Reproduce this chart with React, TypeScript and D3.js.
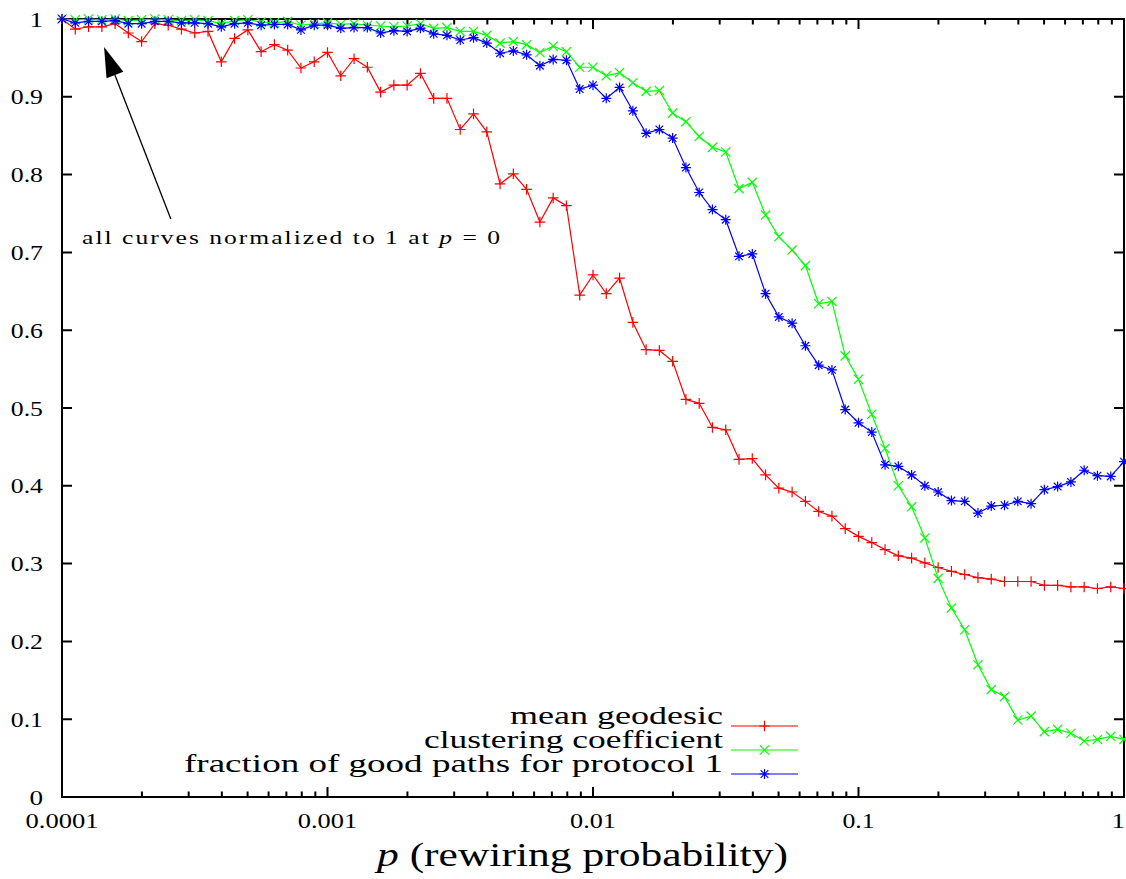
import React from 'react';
import * as d3 from 'd3';

// rewiring probabilities, 20 per decade
const pValues = [
  0.0001, 0.0001122, 0.0001259, 0.0001413, 0.0001585, 0.0001778, 0.0001995, 0.0002239, 0.0002512, 0.0002818,
  0.0003162, 0.0003548, 0.0003981, 0.0004467, 0.0005012, 0.0005623, 0.000631, 0.0007079, 0.0007943, 0.0008913,
  0.001, 0.001122, 0.001259, 0.001413, 0.001585, 0.001778, 0.001995, 0.002239, 0.002512, 0.002818,
  0.003162, 0.003548, 0.003981, 0.004467, 0.005012, 0.005623, 0.00631, 0.007079, 0.007943, 0.008913,
  0.01, 0.01122, 0.01259, 0.01413, 0.01585, 0.01778, 0.01995, 0.02239, 0.02512, 0.02818,
  0.03162, 0.03548, 0.03981, 0.04467, 0.05012, 0.05623, 0.0631, 0.07079, 0.07943, 0.08913,
  0.1, 0.1122, 0.1259, 0.1413, 0.1585, 0.1778, 0.1995, 0.2239, 0.2512, 0.2818,
  0.3162, 0.3548, 0.3981, 0.4467, 0.5012, 0.5623, 0.631, 0.7079, 0.7943, 0.8913,
  1,
];

const meanGeodesic = [
  1.0, 0.987, 0.99, 0.99, 0.994, 0.982, 0.971, 0.994, 0.992, 0.987,
  0.982, 0.984, 0.945, 0.975, 0.986, 0.958, 0.967, 0.96, 0.937, 0.945,
  0.957, 0.927, 0.949, 0.938, 0.906, 0.915, 0.915, 0.93, 0.898, 0.898,
  0.858, 0.878, 0.855, 0.788, 0.801, 0.781, 0.739, 0.77, 0.76, 0.645,
  0.671, 0.647, 0.667, 0.61, 0.575, 0.574, 0.56, 0.511, 0.506, 0.475,
  0.472, 0.434, 0.435, 0.414, 0.397, 0.392, 0.38, 0.367, 0.361, 0.345,
  0.335, 0.327, 0.318, 0.31, 0.307, 0.301, 0.295, 0.29, 0.286, 0.282,
  0.28, 0.277, 0.277, 0.277, 0.272, 0.272, 0.27, 0.27, 0.268, 0.27,
  0.268,
];

const clustering = [
  1.0, 0.999, 1.0, 0.999, 1.0, 0.998, 0.999, 1.0, 0.999, 0.998,
  0.999, 0.998, 0.994, 0.998, 0.999, 0.996, 0.995, 0.997, 0.992, 0.994,
  0.995, 0.993, 0.994, 0.992, 0.991, 0.99, 0.991, 0.994, 0.988, 0.989,
  0.984, 0.984, 0.979, 0.969, 0.971, 0.967, 0.957, 0.965, 0.958, 0.938,
  0.938, 0.927, 0.931, 0.918, 0.907, 0.908, 0.879, 0.868, 0.849, 0.835,
  0.829, 0.782, 0.79, 0.748, 0.72, 0.703, 0.683, 0.634, 0.637, 0.567,
  0.537, 0.492, 0.448, 0.4, 0.373, 0.333, 0.281, 0.243, 0.215, 0.17,
  0.138, 0.129, 0.099, 0.104, 0.084, 0.087, 0.082, 0.072, 0.074, 0.078,
  0.074,
];

const goodPaths = [
  1.0, 0.995, 0.997, 0.997, 0.998, 0.994, 0.994, 0.997, 0.997, 0.995,
  0.995, 0.994, 0.99, 0.994, 0.995, 0.992, 0.993, 0.993, 0.986, 0.992,
  0.992, 0.988, 0.989, 0.989, 0.982, 0.985, 0.984, 0.988, 0.981, 0.979,
  0.973, 0.976, 0.969, 0.956, 0.959, 0.954, 0.94, 0.948, 0.947, 0.91,
  0.915, 0.898, 0.912, 0.882, 0.853, 0.858, 0.847, 0.809, 0.777, 0.755,
  0.742, 0.695, 0.698, 0.647, 0.617, 0.609, 0.58, 0.555, 0.549, 0.498,
  0.481, 0.469, 0.427, 0.425, 0.414, 0.4, 0.392, 0.381, 0.38, 0.365,
  0.374, 0.375, 0.38, 0.377, 0.395, 0.399, 0.405, 0.42, 0.413, 0.412,
  0.431,
];

const seriesNames = ['mean geodesic', 'clustering coefficient', 'fraction of good paths for protocol 1'];
const seriesColors = ['#ff0000', '#00ff00', '#0000ff'];
const seriesMarkers = ['plus', 'cross', 'star'];

const yTicks = [0, 0.1, 0.2, 0.3, 0.4, 0.5, 0.6, 0.7, 0.8, 0.9, 1];
const yTickLabels = ['0', '0.1', '0.2', '0.3', '0.4', '0.5', '0.6', '0.7', '0.8', '0.9', '1'];
const xDecades = [0.0001, 0.001, 0.01, 0.1, 1];
const xTickLabels = ['0.0001', '0.001', '0.01', '0.1', '1'];

const serif = "'Liberation Serif'";

const W = 1126, H = 879;
const left = 62, right = 1124, top = 19, bottom = 797;
const x = d3.scaleLog().domain([0.0001, 1]).range([left, right]);
const y = d3.scaleLinear().domain([0, 1]).range([bottom, top]);

// stretched width of a tick label, to look like the wide TeX digits
const labelWidth = (s: string) => s.replace(/\./g, '').length * 13.6 + (s.includes('.') ? 5 : 0);

const markerPath = (kind: string, cx: number, cy: number) => {
  if (kind === 'plus') return `M${cx - 5.3},${cy}H${cx + 5.3}M${cx},${cy - 5.3}V${cy + 5.3}`;
  const r = 4.6;
  if (kind === 'cross') return `M${cx - r},${cy - r}L${cx + r},${cy + r}M${cx - r},${cy + r}L${cx + r},${cy - r}`;
  const r2 = 3.8;
  return `M${cx - 5},${cy}H${cx + 5}M${cx},${cy - 5}V${cy + 5}M${cx - r2},${cy - r2}L${cx + r2},${cy + r2}M${cx - r2},${cy + r2}L${cx + r2},${cy - r2}`;
};

const isMajor = (t: number) => Math.abs(Math.log10(t) - Math.round(Math.log10(t))) < 1e-6;

const App = () => {
  const allSeries = [meanGeodesic, clustering, goodPaths];
  const line = d3.line<number>().x((d, i) => x(pValues[i])).y(d => y(d));

  // annotation arrow (data coordinates of tail and tip)
  const tail = [x(0.000257), y(0.743)];
  const tip = [x(0.000144), y(0.964)];
  const dx = tip[0] - tail[0], dy = tip[1] - tail[1];
  const len = Math.hypot(dx, dy);
  const ux = dx / len, uy = dy / len;
  const bx = tip[0] - 30 * ux, by = tip[1] - 30 * uy;

  const legendY = [726, 750, 774];
  const legendWidths = [213, 299, 539];

  return (
    <svg width={W} height={H} style={{ position: 'absolute', left: 0, top: 0, fontFamily: serif }}>
      <rect width={W} height={H} fill="#fff" />

      {/* border and inward ticks */}
      <g stroke="#000" strokeWidth={2} fill="none">
        <rect x={left} y={top} width={right - left} height={bottom - top} />
        {yTicks.map(t => (
          <path key={t} d={`M${left},${y(t)}h10M${right},${y(t)}h-10`} />
        ))}
        {x.ticks().map(t => {
          const l = isMajor(t) ? 10 : 5.5;
          return <path key={t} d={`M${x(t)},${bottom}v${-l}M${x(t)},${top}v${l}`} />;
        })}
      </g>

      {/* tick labels */}
      {yTicks.map((t, i) => (
        <text key={t} x={43} y={y(t) + 7.5} textAnchor="end" fontSize={21}
          style={{ fontFamily: serif }}
          textLength={labelWidth(yTickLabels[i])} lengthAdjust="spacingAndGlyphs">
          {yTickLabels[i]}
        </text>
      ))}
      {xDecades.map((d, i) => (
        <text key={d} x={Math.min(x(d), W - labelWidth(xTickLabels[i]) / 2 - 1)} y={828}
          textAnchor="middle" fontSize={21} style={{ fontFamily: serif }}
          textLength={labelWidth(xTickLabels[i])} lengthAdjust="spacingAndGlyphs">
          {xTickLabels[i]}
        </text>
      ))}

      {/* axis title */}
      <text x={377} y={866} fontSize={34} style={{ fontFamily: serif }}
        textLength={411} lengthAdjust="spacingAndGlyphs">
        <tspan fontStyle="italic">p</tspan> (rewiring probability)
      </text>

      {/* series */}
      {allSeries.map((values, si) => (
        <g key={si} stroke={seriesColors[si]} fill="none" strokeWidth={1.2}>
          <path d={line(values) || ''} />
          {values.map((v, i) => (
            <path key={i} d={markerPath(seriesMarkers[si], x(pValues[i]), y(v))} />
          ))}
        </g>
      ))}

      {/* legend */}
      {seriesNames.map((name, i) => (
        <g key={name}>
          <text x={723} y={legendY[i] - 2} textAnchor="end" fontSize={25}
            style={{ fontFamily: serif }}
            textLength={legendWidths[i]} lengthAdjust="spacingAndGlyphs">
            {name}
          </text>
          <g stroke={seriesColors[i]} fill="none" strokeWidth={1.2}>
            <path d={`M731,${legendY[i]}H798`} />
            <path d={markerPath(seriesMarkers[i], 764.5, legendY[i])} />
          </g>
        </g>
      ))}

      {/* annotation */}
      <path d={`M${tail[0]},${tail[1]}L${bx},${by}`} stroke="#000" strokeWidth={1.3} />
      <path d={`M${tip[0]},${tip[1]}L${bx - 9 * uy},${by + 9 * ux}L${bx + 9 * uy},${by - 9 * ux}Z`} fill="#000" />
      <text x={x(0.000119)} y={y(0.711)} fontSize={19} letterSpacing={1.5}
        style={{ fontFamily: serif }}
        textLength={420} lengthAdjust="spacingAndGlyphs">
        all curves normalized to 1 at <tspan fontStyle="italic">p</tspan> = 0
      </text>
    </svg>
  );
};

export default App;
